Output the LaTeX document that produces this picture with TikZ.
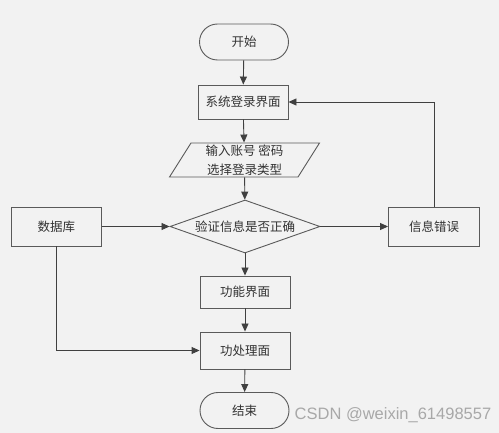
\documentclass[tikz,border=0pt]{standalone}
\usepackage{fontspec}
\newfontfamily\cjk{Noto Sans CJK SC}
\setmainfont{Liberation Sans}
\usetikzlibrary{shapes.geometric,shapes.misc,arrows.meta}
\definecolor{bg}{HTML}{F2F2F2}
\definecolor{ln}{HTML}{404040}
\definecolor{bd}{HTML}{5A5A5A}
\definecolor{tx}{HTML}{333333}
\definecolor{wm}{HTML}{A8A8A8}
\tikzset{
  base/.style={draw=bd, line width=0.9pt, fill=bg, text=tx, font=\cjk\fontsize{12.5}{19}\selectfont, inner sep=0pt, align=center},
  boxnode/.style={base, rectangle, minimum width=90pt},
  term/.style={base, rounded rectangle, minimum width=89pt, minimum height=36pt},
  para/.style={base, trapezium, trapezium stretches=true, trapezium left angle=63, trapezium right angle=117, minimum width=150pt, minimum height=34pt},
  dia/.style={base, diamond, aspect=2.83, minimum width=150pt, minimum height=53pt},
  conn/.style={draw=ln, line width=0.9pt, -{Triangle[length=8pt,width=7pt]}}
}
\begin{document}
\begin{tikzpicture}[x=1pt,y=-1pt]
\fill[bg] (0,0) rectangle (499,433);
\useasboundingbox (0,0) rectangle (499,433);
\node[term] (start) at (244,42) {开始};
\node[boxnode, minimum height=34pt] (login) at (243,102) {系统登录界面};
\node[para] (input) at (244.5,160) {输入账号 密码\\选择登录类型};
\node[dia] (check) at (245,226.5) {验证信息是否正确};
\node[boxnode, minimum height=39pt] (db) at (56.5,226.5) {数据库};
\node[boxnode, minimum height=39pt, minimum width=91pt] (err) at (434,226.5) {信息错误};
\node[boxnode, minimum height=32pt] (func) at (245,292) {功能界面};
\node[boxnode, minimum height=37pt] (proc) at (245,350.5) {功处理面};
\node[term] (end) at (244.5,410.5) {结束};
\node[font=\fontsize{16.5}{18}\selectfont, text=wm, inner sep=0pt] (wmk) at (393,415) {CSDN @weixin\_61498557};
\draw[conn] (start) -- (login);
\draw[conn] (login) -- (input);
\draw[conn] (input) -- (check);
\draw[conn] (db) -- (check);
\draw[conn] (check) -- (err);
\draw[conn] (err.north) |- (login.east);
\draw[conn] (check) -- (func);
\draw[conn] (func) -- (proc);
\draw[conn] (db.south) |- (proc.west);
\draw[conn] (proc) -- (end);
\end{tikzpicture}
\end{document}
